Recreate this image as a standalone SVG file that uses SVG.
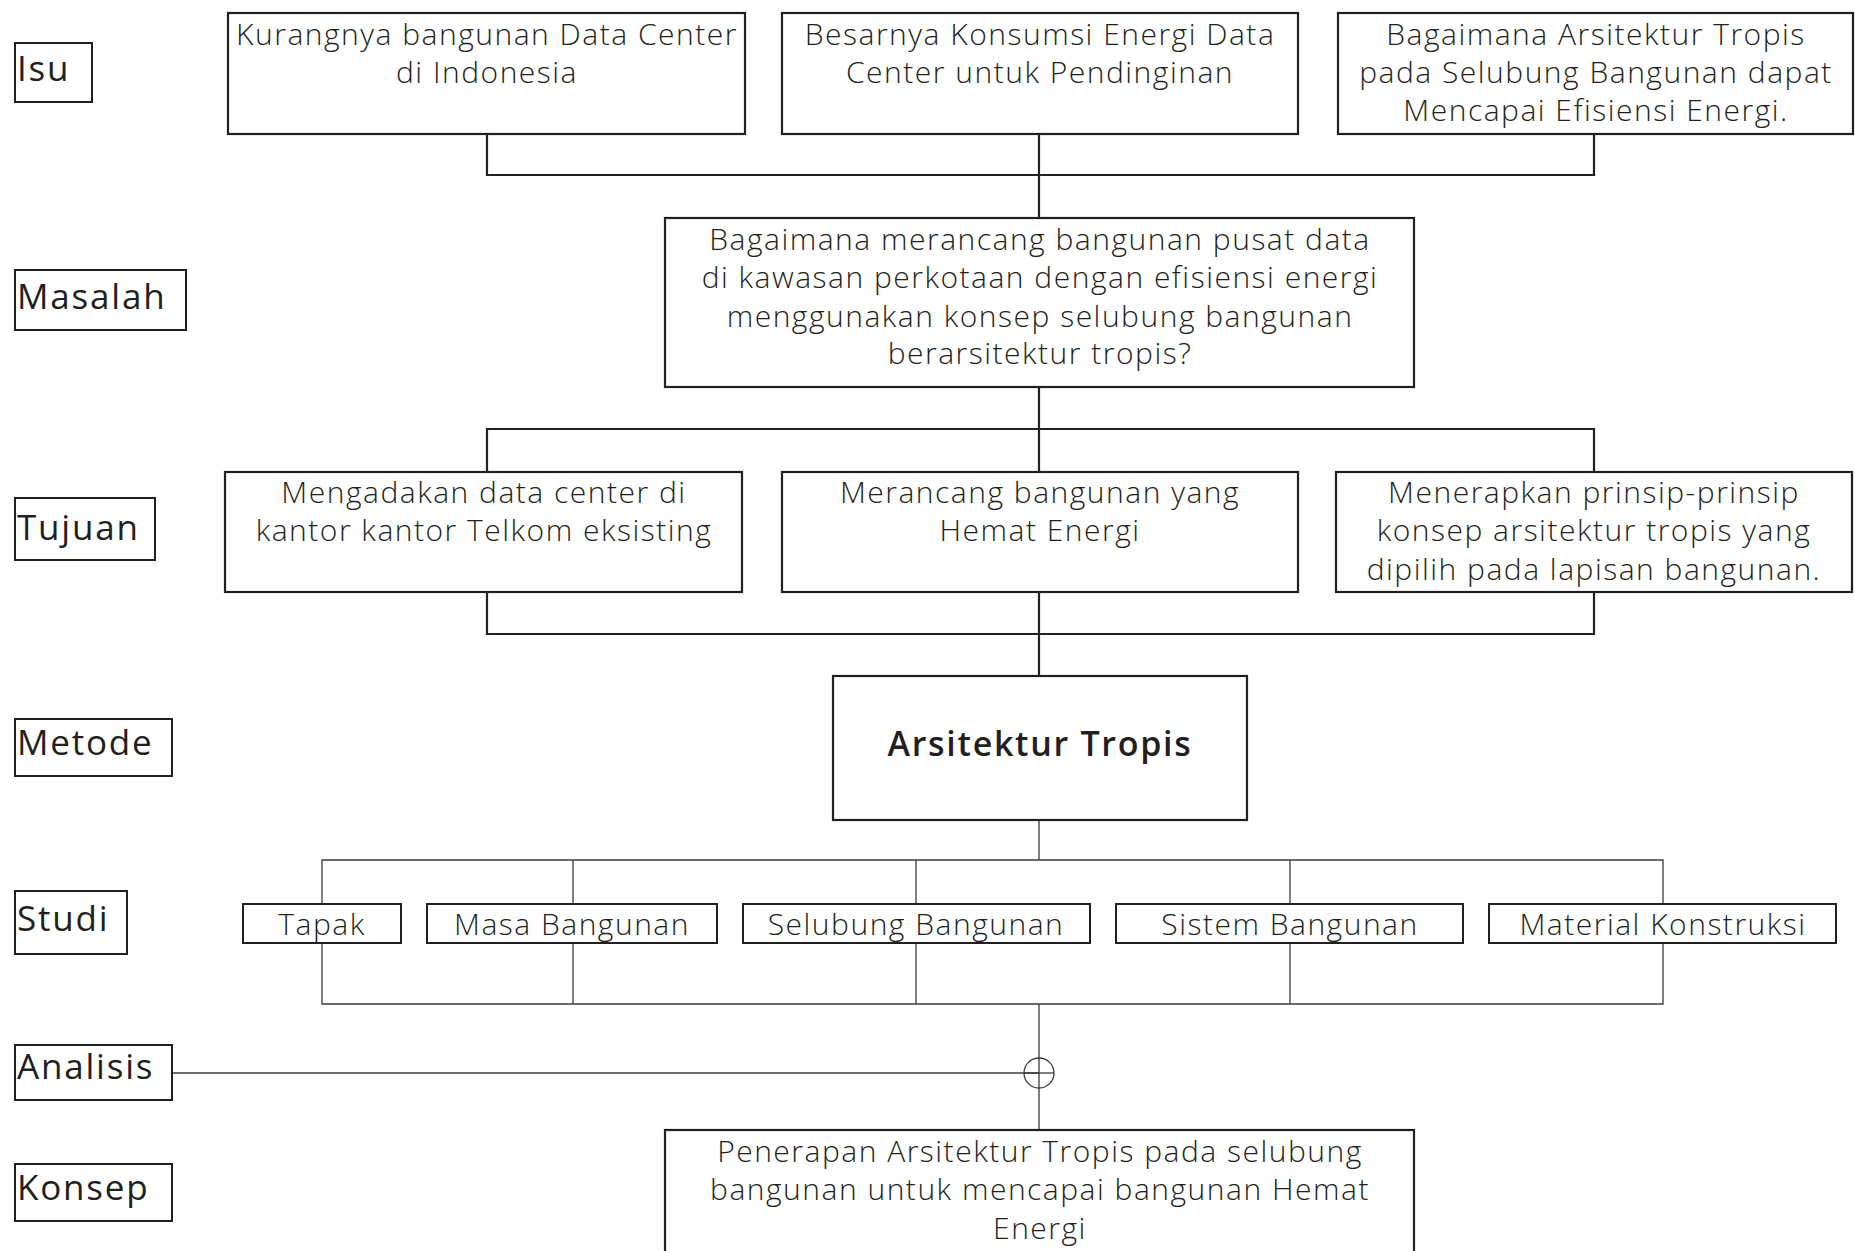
<svg xmlns="http://www.w3.org/2000/svg" width="1855" height="1251" viewBox="0 0 1855 1251">
  <style>
    .box { fill: #ffffff; stroke: #231f20; stroke-width: 2.2; }
    .sbox { fill: #ffffff; stroke: #231f20; stroke-width: 2; }
    .lbl { fill: #ffffff; stroke: #231f20; stroke-width: 2; }
    .t { font-family: "Open Sans", "Liberation Sans", sans-serif; font-weight: 300; font-size: 30px; letter-spacing: 1.5px; fill: #231f20; text-anchor: middle; }
    .lt { font-family: "Open Sans", "Liberation Sans", sans-serif; font-weight: 500; font-size: 35px; letter-spacing: 1.8px; fill: #231f20; }
    .bt { font-family: "Open Sans", "Liberation Sans", sans-serif; font-weight: 600; font-size: 34px; letter-spacing: 1.7px; fill: #231f20; text-anchor: middle; }
    .c { fill: none; stroke: #231f20; stroke-width: 2.2; }
    .cs { fill: none; stroke: #3a3a3a; stroke-width: 1.3; }
  </style>

  <!-- connectors -->
  <g id="connectors">
    <!-- Isu to Masalah -->
    <path class="c" d="M487 134 V175 H1594 V134 M1039 134 V218"/>
    <!-- Masalah to Tujuan -->
    <path class="c" d="M1039 387 V429 M487 472 V429 H1594 V472 M1039 429 V472"/>
    <!-- Tujuan to Metode -->
    <path class="c" d="M487 592 V634 H1594 V592 M1039 592 V676"/>
    <!-- Metode to Studi -->
    <path class="cs" d="M1039 820 V860 M322 904 V860 H1663 V904 M573 860 V904 M916 860 V904 M1290 860 V904"/>
    <!-- Studi to Analisis -->
    <path class="cs" d="M322 943 V1004 H1663 V943 M573 943 V1004 M916 943 V1004 M1290 943 V1004"/>
    <path class="cs" d="M1039 1004 V1130"/>
    <!-- Analisis line and junction -->
    <path class="cs" d="M172 1073 H1039"/>
    <circle class="cs" cx="1039" cy="1073" r="15"/>
    <path class="cs" d="M1024 1073 H1054"/>
  </g>

  <!-- row labels -->
  <g id="label-isu">
    <rect class="lbl" x="15" y="43" width="77" height="59"/>
    <text class="lt" x="17" y="81">Isu</text>
  </g>
  <g id="label-masalah">
    <rect class="lbl" x="15" y="270" width="171" height="60"/>
    <text class="lt" x="17" y="309">Masalah</text>
  </g>
  <g id="label-tujuan">
    <rect class="lbl" x="15" y="498" width="140" height="62"/>
    <text class="lt" x="17" y="540">Tujuan</text>
  </g>
  <g id="label-metode">
    <rect class="lbl" x="15" y="719" width="157" height="57"/>
    <text class="lt" x="17" y="755">Metode</text>
  </g>
  <g id="label-studi">
    <rect class="lbl" x="15" y="891" width="112" height="63"/>
    <text class="lt" x="17" y="931">Studi</text>
  </g>
  <g id="label-analisis">
    <rect class="lbl" x="15" y="1045" width="157" height="55"/>
    <text class="lt" x="17" y="1079">Analisis</text>
  </g>
  <g id="label-konsep">
    <rect class="lbl" x="15" y="1164" width="157" height="57"/>
    <text class="lt" x="17" y="1200">Konsep</text>
  </g>

  <!-- Isu -->
  <g id="isu-1">
    <rect class="box" x="228" y="13" width="517" height="121"/>
    <text class="t" x="487" y="45">Kurangnya bangunan Data Center</text>
    <text class="t" x="487" y="83">di Indonesia</text>
  </g>
  <g id="isu-2">
    <rect class="box" x="782" y="13" width="516" height="121"/>
    <text class="t" x="1040" y="45">Besarnya Konsumsi Energi Data</text>
    <text class="t" x="1040" y="83">Center untuk Pendinginan</text>
  </g>
  <g id="isu-3">
    <rect class="box" x="1338" y="13" width="515" height="121"/>
    <text class="t" x="1596" y="45">Bagaimana Arsitektur Tropis</text>
    <text class="t" x="1596" y="83">pada Selubung Bangunan dapat</text>
    <text class="t" x="1596" y="121">Mencapai Efisiensi Energi.</text>
  </g>

  <!-- Masalah -->
  <g id="masalah">
    <rect class="box" x="665" y="218" width="749" height="169"/>
    <text class="t" x="1040" y="250">Bagaimana merancang bangunan pusat data</text>
    <text class="t" x="1040" y="288">di kawasan perkotaan dengan efisiensi energi</text>
    <text class="t" x="1040" y="327">menggunakan konsep selubung bangunan</text>
    <text class="t" x="1040" y="364">berarsitektur tropis?</text>
  </g>

  <!-- Tujuan -->
  <g id="tujuan-1">
    <rect class="box" x="225" y="472" width="517" height="120"/>
    <text class="t" x="484" y="503">Mengadakan data center di</text>
    <text class="t" x="484" y="541">kantor kantor Telkom eksisting</text>
  </g>
  <g id="tujuan-2">
    <rect class="box" x="782" y="472" width="516" height="120"/>
    <text class="t" x="1040" y="503">Merancang bangunan yang</text>
    <text class="t" x="1040" y="541">Hemat Energi</text>
  </g>
  <g id="tujuan-3">
    <rect class="box" x="1336" y="472" width="516" height="120"/>
    <text class="t" x="1594" y="503">Menerapkan prinsip-prinsip</text>
    <text class="t" x="1594" y="541">konsep arsitektur tropis yang</text>
    <text class="t" x="1594" y="580">dipilih pada lapisan bangunan.</text>
  </g>

  <!-- Metode -->
  <g id="metode">
    <rect class="box" x="833" y="676" width="414" height="144"/>
    <text class="bt" x="1040" y="756">Arsitektur Tropis</text>
  </g>

  <!-- Studi -->
  <g id="studi-tapak">
    <rect class="sbox" x="243" y="904" width="158" height="39"/>
    <text class="t" x="322" y="935">Tapak</text>
  </g>
  <g id="studi-masa">
    <rect class="sbox" x="427" y="904" width="290" height="39"/>
    <text class="t" x="572" y="935">Masa Bangunan</text>
  </g>
  <g id="studi-selubung">
    <rect class="sbox" x="743" y="904" width="347" height="39"/>
    <text class="t" x="916" y="935">Selubung Bangunan</text>
  </g>
  <g id="studi-sistem">
    <rect class="sbox" x="1116" y="904" width="347" height="39"/>
    <text class="t" x="1290" y="935">Sistem Bangunan</text>
  </g>
  <g id="studi-material">
    <rect class="sbox" x="1489" y="904" width="347" height="39"/>
    <text class="t" x="1663" y="935">Material Konstruksi</text>
  </g>

  <!-- Konsep -->
  <g id="konsep">
    <rect class="box" x="665" y="1130" width="749" height="140"/>
    <text class="t" x="1040" y="1162">Penerapan Arsitektur Tropis pada selubung</text>
    <text class="t" x="1040" y="1200">bangunan untuk mencapai bangunan Hemat</text>
    <text class="t" x="1040" y="1239">Energi</text>
  </g>
</svg>
